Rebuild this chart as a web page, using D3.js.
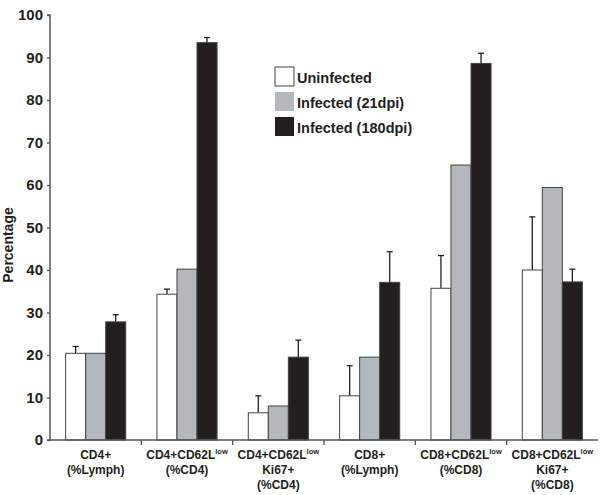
<!DOCTYPE html>
<html><head><meta charset="utf-8">
<script src="https://cdn.jsdelivr.net/npm/d3@7"></script>
<style>body{margin:0;background:#fff}svg{display:block}text{font-family:"Liberation Sans",Arial,sans-serif;font-weight:bold;fill:#231f20}</style>
</head><body>
<svg id="c" width="600" height="495"></svg>
<script>
const categories = [
  [["CD4+"],["(%Lymph)"]],
  [["CD4+CD62L","low"],["(%CD4)"]],
  [["CD4+CD62L","low"],["Ki67+"],["(%CD4)"]],
  [["CD8+"],["(%Lymph)"]],
  [["CD8+CD62L","low"],["(%CD8)"]],
  [["CD8+CD62L","low"],["Ki67+"],["(%CD8)"]]
];
const seriesNames = ["Uninfected","Infected (21dpi)","Infected (180dpi)"];
const seriesColors = ["#ffffff","#b4b7bb","#231f20"];
const uninfected = [20.4, 34.3, 6.4, 10.4, 35.7, 40.0];
const uninfectedErr = [22.0, 35.5, 10.4, 17.5, 43.4, 52.5];
const infected21 = [20.4, 40.2, 8.0, 19.5, 64.7, 59.4];
const infected21Err = [null, null, null, null, null, null];
const infected180 = [27.8, 93.5, 19.5, 37.1, 88.6, 37.2];
const infected180Err = [29.5, 94.7, 23.5, 44.3, 91.0, 40.2];
const yTicks = [0,10,20,30,40,50,60,70,80,90,100];

const values = [uninfected, infected21, infected180];
const errTops = [uninfectedErr, infected21Err, infected180Err];

const svg = d3.select("#c");
const x0 = 50, x1 = 598, yBot = 440, yTop = 15;
const y = d3.scaleLinear().domain([0,100]).range([yBot, yTop]);
const gx = d3.scaleBand().domain(d3.range(categories.length)).range([x0, x1]).padding(0);
const sx = d3.scaleBand().domain(d3.range(3)).range([0, gx.bandwidth()]).paddingInner(0).paddingOuter(0.78);

const axisColor = "#555";

// bars
const groups = svg.append("g").selectAll("g").data(categories).join("g")
  .attr("transform", (d,i) => `translate(${gx(i)},0)`);
groups.each(function(d, gi) {
  const g = d3.select(this);
  for (let s = 0; s < 3; s++) {
    const v = values[s][gi];
    const bx = sx(s), bw = sx.bandwidth();
    const e = errTops[s][gi];
    if (e != null) {
      const cx = bx + bw/2;
      g.append("line").attr("x1", cx).attr("x2", cx).attr("y1", y(v)).attr("y2", y(e))
        .attr("stroke", "#231f20").attr("stroke-width", 1.3);
      g.append("line").attr("x1", cx-3).attr("x2", cx+3).attr("y1", y(e)).attr("y2", y(e))
        .attr("stroke", "#231f20").attr("stroke-width", 1.3);
    }
    g.append("rect").attr("x", bx).attr("y", y(v)).attr("width", bw).attr("height", y(0)-y(v))
      .attr("fill", seriesColors[s]).attr("stroke", "#444").attr("stroke-width", 1);
  }
});

// y axis
const yAxis = svg.append("g").attr("transform", `translate(${x0},0)`)
  .call(d3.axisLeft(y).tickValues(yTicks).tickSize(3).tickPadding(4));
yAxis.select(".domain").attr("stroke", axisColor).attr("stroke-width", 1.5).attr("d", `M-3,${yTop}H0V${yBot}H-3`);
yAxis.selectAll(".tick line").attr("stroke", axisColor).attr("stroke-width", 1.3);
yAxis.selectAll(".tick text").style("font-size", "15px").style("font-weight", "bold").attr("fill", "#231f20")
  .style("font-family", '"Liberation Sans",Arial,sans-serif');

// x axis
svg.append("line").attr("x1", x0).attr("x2", x1).attr("y1", yBot).attr("y2", yBot)
  .attr("stroke", axisColor).attr("stroke-width", 1.5);
const boundaries = d3.range(1, categories.length).map(i => gx(i));
svg.append("g").selectAll("line").data(boundaries).join("line")
  .attr("x1", d => d).attr("x2", d => d).attr("y1", yBot).attr("y2", yBot+5)
  .attr("stroke", axisColor).attr("stroke-width", 1.3);

// x labels
const lab = svg.append("g").selectAll("text").data(categories).join("text")
  .attr("text-anchor", "middle").style("font-size", "12px");
lab.each(function(lines, i) {
  const t = d3.select(this);
  const cx = gx(i) + gx.bandwidth()/2;
  lines.forEach((ln, li) => {
    t.append("tspan").attr("x", cx).attr("y", 459 + li*15).text(ln[0]);
    if (ln[1]) {
      t.append("tspan").attr("dy", -5).style("font-size", "7.5px").text(ln[1]);
    }
  });
});

// y title
svg.append("text").attr("transform", "translate(13,245) rotate(-90)")
  .attr("text-anchor", "middle").style("font-size", "14px").text("Percentage");

// legend
const leg = svg.append("g").attr("transform", "translate(275,67)");
seriesNames.forEach((n, i) => {
  leg.append("rect").attr("x", 0).attr("y", i*25).attr("width", 19).attr("height", 19)
    .attr("fill", seriesColors[i]).attr("stroke", i===0 ? "#444" : "none").attr("stroke-width", 1);
  leg.append("text").attr("x", 22).attr("y", i*25 + 15.5).style("font-size", "14.5px").text(n);
});
</script>
</body></html>
